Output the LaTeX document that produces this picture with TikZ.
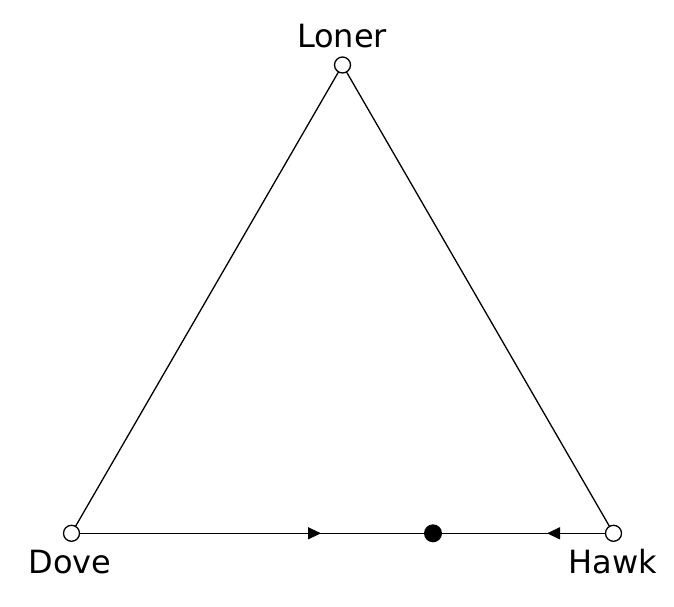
\documentclass[tikz,border=0pt]{standalone}
\usepackage{fontspec}
\setmainfont{DejaVu Sans}
\usetikzlibrary{arrows.meta, positioning}
\tikzset{
  vert/.style={circle, draw, fill=white, minimum size=16pt, inner sep=0pt, line width=1.3pt},
  eqdot/.style={circle, fill=black, minimum size=18pt, inner sep=0pt},
  lab/.style={font=\fontsize{32}{38}\selectfont, anchor=base, inner sep=0pt},
  edge/.style={line width=1.3pt},
  flow/.style={edge, -{Triangle[length=13pt, width=12pt]}},
}
\begin{document}
\begin{tikzpicture}[x=1pt, y=1pt]
  \useasboundingbox (0,0) rectangle (674,606);

  % ---- Sommets du simplexe ----
  \coordinate (cL) at (342.5,541);
  \coordinate (cD) at (71.5,72.7);
  \coordinate (cH) at (613.5,72.7);
  \coordinate (cE) at (433,72.7);
  \coordinate (aD) at (321,72.7);
  \coordinate (aH) at (547,72.7);

  % ---- Aretes ----
  \draw[edge] (cD) -- (cL) -- (cH);
  \draw[edge] (cD) -- (cH);
  \draw[flow] (cD) -- (aD);
  \draw[flow] (cH) -- (aH);

  % ---- Points fixes ----
  \node[vert] (loner) at (cL) {};
  \node[vert] (dove) at (cD) {};
  \node[vert] (hawk) at (cH) {};
  \node[eqdot] (mix) at (cE) {};

  % ---- Etiquettes ----
  \node[lab] (tL) at (342,558) {Loner};
  \node[lab] (tD) at (70,33) {Dove};
  \node[lab] (tH) at (613,33) {Hawk};
\end{tikzpicture}
\end{document}
